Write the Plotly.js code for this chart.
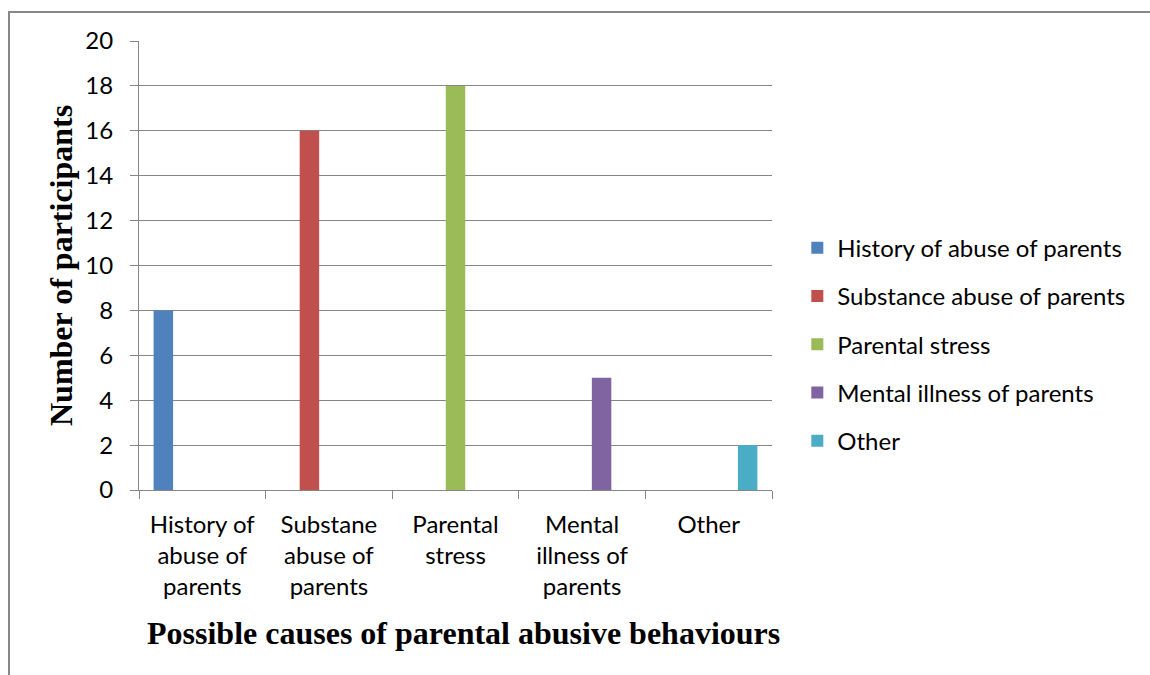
<!DOCTYPE html>
<html>
<head>
<meta charset="utf-8">
<script src="https://cdn.plot.ly/plotly-3.0.1.min.js"></script>
<style>
html,body{margin:0;padding:0;background:#fff;}
#chart{width:1150px;height:675px;position:relative;}
#frame{position:absolute;left:8px;top:11px;width:1150px;height:680px;border-left:2px solid #888;border-top:2px solid #888;pointer-events:none;}
</style>
</head>
<body>
<div style="position:relative;width:1150px;height:675px;">
<div id="chart"></div>
<div id="frame"></div>
</div>
<script>
// Categories (x tick labels)
const categories = ["History of<br>abuse of<br>parents", "Substane<br>abuse of<br>parents", "Parental<br>stress", "Mental<br>illness of<br>parents", "Other"];

// Series names
const seriesNames = ["History of abuse of parents", "Substance abuse of parents", "Parental stress", "Mental illness of parents", "Other"];

// Series values (one column per category)
const historyOfAbuse   = [8, 0, 0, 0, 0];
const substanceAbuse   = [0, 16, 0, 0, 0];
const parentalStress   = [0, 0, 18, 0, 0];
const mentalIllness    = [0, 0, 0, 5, 0];
const otherCauses      = [0, 0, 0, 0, 2];

// Axis titles
const xTitle = "Possible causes of parental abusive behaviours";
const yTitle = "Number of participants";

const seriesValues = [historyOfAbuse, substanceAbuse, parentalStress, mentalIllness, otherCauses];
const colors = ["#4F81BD", "#C0504D", "#9BBB59", "#8064A2", "#4BACC6"];

const tickFont = {family: "Lato, 'Open Sans', sans-serif", size: 24, color: "#000"};
const titleFont = {family: "'Liberation Serif', 'Times New Roman', serif", size: 32, color: "#000", weight: "bold"};

const traces = seriesValues.map((vals, i) => ({
  type: "bar",
  name: seriesNames[i],
  x: categories,
  y: vals,
  marker: {color: colors[i], line: {width: 0}},
  legendgroup: "g" + i,
  hoverinfo: "skip"
}));

const layout = {
  width: 1150,
  height: 675,
  margin: {l: 139, r: 378, t: 41, b: 185, pad: 0, autoexpand: false},
  paper_bgcolor: "#fff",
  plot_bgcolor: "#fff",
  barmode: "group",
  bargap: 1.5 / 6.5,
  bargroupgap: 0,
  showlegend: true,
  legend: {
    x: 1.04, xanchor: "left",
    y: 0.49, yanchor: "middle",
    yref: "container",
    font: tickFont,
    traceorder: "grouped",
    tracegroupgap: 14,
    itemwidth: 30,
    bgcolor: "rgba(0,0,0,0)"
  },
  xaxis: {
    type: "category",
    tickson: "boundaries",
    ticks: "outside",
    ticklen: 8,
    tickcolor: "#868686",
    showline: true,
    linecolor: "#868686",
    linewidth: 1,
    showgrid: false,
    tickfont: tickFont,
    automargin: false,
    ticklabelstandoff: 13
  },
  yaxis: {
    range: [0, 20],
    dtick: 2,
    ticks: "outside",
    ticklen: 8,
    tickcolor: "#868686",
    showline: true,
    linecolor: "#868686",
    linewidth: 1,
    showgrid: true,
    gridcolor: "#868686",
    gridwidth: 1,
    zeroline: false,
    tickfont: tickFont,
    automargin: false,
    ticklabelstandoff: 12
  },
  annotations: [
    {
      text: xTitle, font: titleFont, showarrow: false,
      xref: "paper", yref: "paper", x: 0.512, y: -0.318,
      xanchor: "center", yanchor: "middle"
    },
    {
      text: yTitle, font: titleFont, showarrow: false, textangle: -90,
      xref: "paper", yref: "paper", x: -0.124, y: 0.5,
      xanchor: "center", yanchor: "middle"
    }
  ]
};

Plotly.newPlot("chart", traces, layout, {displayModeBar: false, staticPlot: true});
</script>
</body>
</html>
